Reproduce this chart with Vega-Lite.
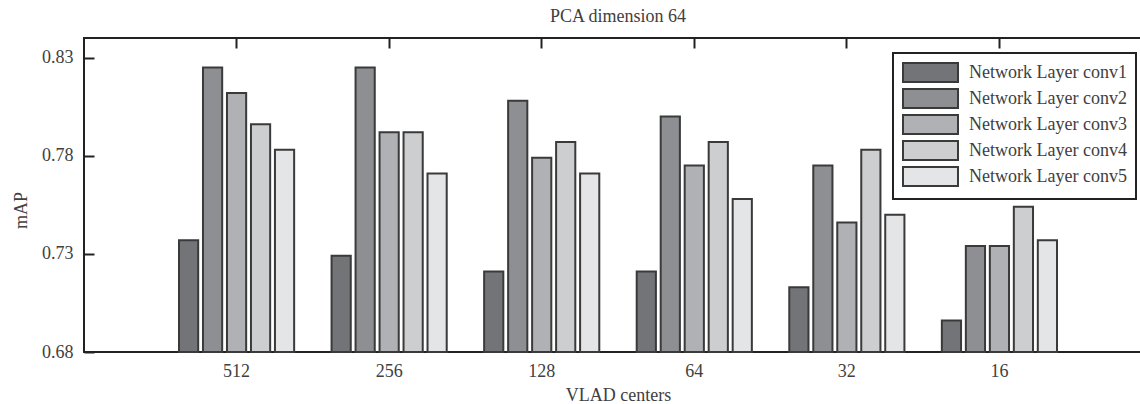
{
  "$schema": "https://vega.github.io/schema/vega-lite/v6.json",
  "autosize": {"type": "none"},
  "padding": {"left": 84, "top": 38, "right": 0, "bottom": 52},
  "width": 1068,
  "height": 314,
  "background": "white",
  "title": {"text": "PCA dimension 64", "font": "Liberation Serif", "fontSize": 18, "fontWeight": "normal", "color": "#404040", "anchor": "middle", "baseline": "alphabetic", "offset": -3},
  "data": {"values": [
    {"centers": "512", "layer": "Network Layer conv1", "mAP": 0.737},
    {"centers": "512", "layer": "Network Layer conv2", "mAP": 0.825},
    {"centers": "512", "layer": "Network Layer conv3", "mAP": 0.812},
    {"centers": "512", "layer": "Network Layer conv4", "mAP": 0.796},
    {"centers": "512", "layer": "Network Layer conv5", "mAP": 0.783},
    {"centers": "256", "layer": "Network Layer conv1", "mAP": 0.729},
    {"centers": "256", "layer": "Network Layer conv2", "mAP": 0.825},
    {"centers": "256", "layer": "Network Layer conv3", "mAP": 0.792},
    {"centers": "256", "layer": "Network Layer conv4", "mAP": 0.792},
    {"centers": "256", "layer": "Network Layer conv5", "mAP": 0.771},
    {"centers": "128", "layer": "Network Layer conv1", "mAP": 0.721},
    {"centers": "128", "layer": "Network Layer conv2", "mAP": 0.808},
    {"centers": "128", "layer": "Network Layer conv3", "mAP": 0.779},
    {"centers": "128", "layer": "Network Layer conv4", "mAP": 0.787},
    {"centers": "128", "layer": "Network Layer conv5", "mAP": 0.771},
    {"centers": "64", "layer": "Network Layer conv1", "mAP": 0.721},
    {"centers": "64", "layer": "Network Layer conv2", "mAP": 0.800},
    {"centers": "64", "layer": "Network Layer conv3", "mAP": 0.775},
    {"centers": "64", "layer": "Network Layer conv4", "mAP": 0.787},
    {"centers": "64", "layer": "Network Layer conv5", "mAP": 0.758},
    {"centers": "32", "layer": "Network Layer conv1", "mAP": 0.713},
    {"centers": "32", "layer": "Network Layer conv2", "mAP": 0.775},
    {"centers": "32", "layer": "Network Layer conv3", "mAP": 0.746},
    {"centers": "32", "layer": "Network Layer conv4", "mAP": 0.783},
    {"centers": "32", "layer": "Network Layer conv5", "mAP": 0.750},
    {"centers": "16", "layer": "Network Layer conv1", "mAP": 0.696},
    {"centers": "16", "layer": "Network Layer conv2", "mAP": 0.734},
    {"centers": "16", "layer": "Network Layer conv3", "mAP": 0.734},
    {"centers": "16", "layer": "Network Layer conv4", "mAP": 0.754},
    {"centers": "16", "layer": "Network Layer conv5", "mAP": 0.737}
  ]},
  "encoding": {
    "x": {"field": "centers", "type": "nominal", "sort": ["512", "256", "128", "64", "32", "16"],
      "scale": {"paddingInner": 0, "paddingOuter": 0.5}},
    "xOffset": {"field": "layer", "type": "nominal", "scale": {"paddingInner": 0.2, "paddingOuter": 0.78}},
    "y": {"field": "mAP", "type": "quantitative",
      "scale": {"domain": [0.68, 0.84], "zero": false, "nice": false},
      "axis": {"values": [0.68, 0.73, 0.78, 0.83], "format": ".2f", "grid": false, "domain": false,
        "tickSize": -10, "tickWidth": 2, "tickColor": "#222", "labelPadding": 21,
        "labelFont": "Liberation Serif", "labelFontSize": 18, "labelColor": "#404040",
        "title": "mAP", "titleFont": "Liberation Serif", "titleFontSize": 18, "titleFontWeight": "normal", "titleColor": "#404040",
        "titleAngle": -90, "titleAlign": "center", "titleBaseline": "middle", "titleX": -63, "titleY": 172}},
    "y2": {"datum": 0.68},
    "color": {"field": "layer", "type": "nominal",
      "scale": {"range": ["#737477", "#8e8f92", "#b0b1b4", "#cdced0", "#e4e5e7"]},
      "legend": {"orient": "none", "legendX": 809, "legendY": 15, "title": null,
        "symbolType": "M-1,-1H4.79V1H-1Z", "symbolSize": 361, "symbolOpacity": 1,
        "symbolStrokeColor": "#3a3a3a", "symbolStrokeWidth": 2,
        "labelFont": "Liberation Serif", "labelFontSize": 18, "labelColor": "#404040", "labelOffset": 46,
        "strokeColor": "#222", "fillColor": "white", "padding": 9, "rowPadding": -1}}
  },
  "layer": [
    {"mark": {"type": "bar", "stroke": "#3a3a3a", "strokeWidth": 2, "opacity": 1},
      "encoding": {"x": {"field": "centers", "type": "nominal", "sort": ["512", "256", "128", "64", "32", "16"],
        "scale": {"paddingInner": 0, "paddingOuter": 0.5},
        "axis": {"orient": "bottom", "domain": false, "ticks": false, "labelAngle": 0, "labelPadding": 10,
          "labelFont": "Liberation Serif", "labelFontSize": 18, "labelColor": "#404040",
          "title": "VLAD centers", "titleFont": "Liberation Serif", "titleFontSize": 18, "titleFontWeight": "normal", "titleColor": "#404040", "titlePadding": 6}}}},
    {"mark": {"type": "bar", "opacity": 0},
      "encoding": {"x": {"field": "centers", "type": "nominal", "sort": ["512", "256", "128", "64", "32", "16"],
        "scale": {"paddingInner": 0, "paddingOuter": 0.5},
        "axis": {"orient": "top", "domain": false, "labels": false, "title": null, "tickSize": -10, "tickWidth": 2, "tickColor": "#222"}}}}
  ],
  "resolve": {"axis": {"x": "independent"}},
  "config": {"view": {"stroke": "#222", "strokeWidth": 2}, "axis": {"grid": false}, "legend": {"strokeWidth": 2}}
}
